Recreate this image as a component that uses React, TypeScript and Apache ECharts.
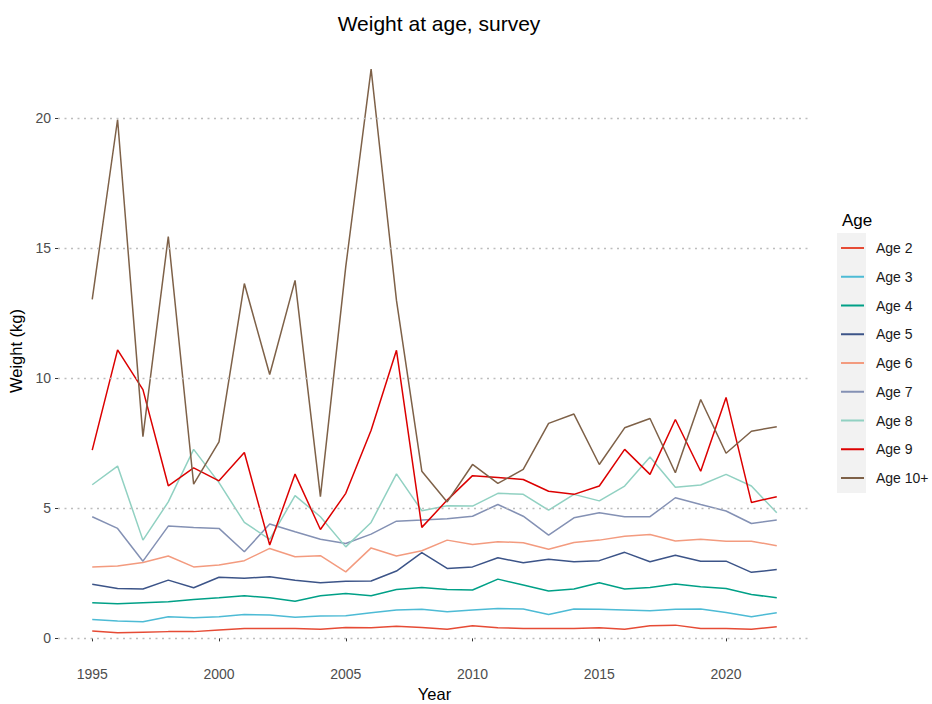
import React, { useEffect, useRef } from "react";
import * as echarts from "echarts";

const years = [
  1995, 1996, 1997, 1998, 1999, 2000, 2001, 2002, 2003, 2004, 2005, 2006, 2007, 2008,
  2009, 2010, 2011, 2012, 2013, 2014, 2015, 2016, 2017, 2018, 2019, 2020, 2021, 2022,
];

const age2 = [0.28, 0.22, 0.24, 0.26, 0.26, 0.32, 0.38, 0.38, 0.38, 0.35, 0.42, 0.41, 0.47, 0.42, 0.35, 0.49, 0.41, 0.38, 0.38, 0.38, 0.41, 0.35, 0.49, 0.51, 0.38, 0.38, 0.35, 0.45];
const age3 = [0.73, 0.67, 0.64, 0.83, 0.79, 0.83, 0.92, 0.9, 0.81, 0.86, 0.87, 0.99, 1.09, 1.12, 1.02, 1.09, 1.15, 1.13, 0.92, 1.13, 1.12, 1.09, 1.06, 1.12, 1.13, 1.0, 0.83, 0.99];
const age4 = [1.37, 1.33, 1.37, 1.41, 1.5, 1.56, 1.64, 1.56, 1.43, 1.64, 1.73, 1.64, 1.88, 1.96, 1.88, 1.86, 2.28, 2.05, 1.82, 1.9, 2.14, 1.9, 1.96, 2.09, 1.99, 1.92, 1.69, 1.56];
const age5 = [2.08, 1.92, 1.9, 2.24, 1.95, 2.35, 2.31, 2.37, 2.24, 2.14, 2.2, 2.21, 2.59, 3.3, 2.69, 2.75, 3.1, 2.91, 3.04, 2.95, 2.99, 3.31, 2.95, 3.2, 2.97, 2.97, 2.54, 2.65];
const age6 = [2.75, 2.78, 2.92, 3.17, 2.75, 2.82, 2.99, 3.46, 3.14, 3.18, 2.56, 3.48, 3.17, 3.37, 3.78, 3.61, 3.72, 3.68, 3.43, 3.69, 3.78, 3.93, 4.0, 3.75, 3.81, 3.74, 3.74, 3.56];
const age7 = [4.68, 4.23, 2.97, 4.32, 4.27, 4.23, 3.33, 4.4, 4.1, 3.81, 3.65, 4.01, 4.51, 4.55, 4.6, 4.7, 5.15, 4.7, 3.97, 4.64, 4.83, 4.68, 4.68, 5.41, 5.15, 4.9, 4.42, 4.55];
const age8 = [5.91, 6.63, 3.78, 5.25, 7.27, 5.99, 4.46, 3.81, 5.49, 4.68, 3.52, 4.46, 6.33, 4.91, 5.1, 5.09, 5.58, 5.54, 4.93, 5.54, 5.29, 5.86, 6.98, 5.81, 5.9, 6.31, 5.86, 4.83];
const age9 = [7.24, 11.1, 9.57, 5.87, 6.56, 6.06, 7.15, 3.59, 6.32, 4.19, 5.58, 8.01, 11.08, 4.27, 5.32, 6.26, 6.19, 6.11, 5.66, 5.54, 5.86, 7.27, 6.31, 8.42, 6.43, 9.27, 5.23, 5.45];
const age10 = [13.04, 19.96, 7.76, 15.46, 5.93, 7.56, 13.65, 10.15, 13.77, 5.45, 14.3, 21.9, 13.0, 6.43, 5.25, 6.69, 5.96, 6.5, 8.27, 8.63, 6.69, 8.1, 8.46, 6.37, 9.19, 7.12, 7.97, 8.14];

const seriesNames = ["Age 2", "Age 3", "Age 4", "Age 5", "Age 6", "Age 7", "Age 8", "Age 9", "Age 10+"];
const seriesValues = [age2, age3, age4, age5, age6, age7, age8, age9, age10];
const seriesColors = ["#E64B35", "#4DBBD5", "#00A087", "#3C5488", "#F39B7F", "#8491B4", "#91D1C2", "#DC0000", "#7E6148"];

const xTicks = [1995, 2000, 2005, 2010, 2015, 2020];
const yTicks = [0, 5, 10, 15, 20];

const FONT = "'Liberation Sans', Arial, sans-serif";

export default function App() {
  const ref = useRef<HTMLDivElement>(null);

  useEffect(() => {
    if (!ref.current) return;
    const chart = echarts.init(ref.current, undefined, { renderer: "svg" });

    const lineSeries = seriesNames.map((name, i) => ({
      name,
      type: "line",
      symbol: "none",
      showSymbol: false,
      color: seriesColors[i],
      lineStyle: { width: 1.5, color: seriesColors[i] },
      data: years.map((y, j) => [y, seriesValues[i][j]]),
      z: 3,
    }));

    const option: any = {
      animation: false,
      backgroundColor: "#ffffff",
      textStyle: { fontFamily: FONT },
      title: [
        {
          text: "Weight at age, survey",
          left: 434,
          top: 8,
          textAlign: "center",
          textStyle: { fontFamily: FONT, fontSize: 21, fontWeight: "normal", color: "#000" },
        },
        {
          text: "Age",
          left: 837,
          top: 207,
          textStyle: { fontFamily: FONT, fontSize: 17, fontWeight: "normal", color: "#000" },
        },
      ],
      grid: { left: 58, right: 121, top: 41, bottom: 43, containLabel: false, outerBoundsMode: "none" },
      xAxis: {
        type: "value",
        min: 1993.65,
        max: 2023.35,
        name: "Year",
        nameLocation: "middle",
        nameGap: 24,
        nameTextStyle: { fontFamily: FONT, fontSize: 16.5, color: "#000", verticalAlign: "top" },
        axisLine: { show: false },
        axisTick: { show: true, customValues: xTicks, length: 3, lineStyle: { color: "#333", width: 1 } },
        axisLabel: {
          customValues: xTicks,
          margin: 6,
          fontFamily: FONT,
          fontSize: 14,
          color: "#4D4D4D",
          formatter: (v: number) => String(v),
        },
        splitLine: { show: false },
      },
      yAxis: {
        type: "value",
        min: -0.87,
        max: 22.98,
        name: "Weight (kg)",
        nameLocation: "middle",
        nameGap: 30,
        nameRotate: 90,
        nameTextStyle: { fontFamily: FONT, fontSize: 16.5, color: "#000" },
        axisLine: { show: false },
        axisTick: { show: true, customValues: yTicks, length: 3, lineStyle: { color: "#333", width: 1 } },
        axisLabel: {
          customValues: yTicks,
          margin: 7,
          fontFamily: FONT,
          fontSize: 14,
          color: "#4D4D4D",
          formatter: (v: number) => String(v),
        },
        splitLine: { show: false },
      },
      legend: {
        data: seriesNames,
        orient: "vertical",
        left: 841,
        top: 240,
        padding: 0,
        itemGap: 12.75,
        itemWidth: 23,
        itemHeight: 2,
        icon: "rect",
        textStyle: { fontFamily: FONT, fontSize: 14, color: "#1A1A1A", lineHeight: 16, padding: [0, 0, 0, 7] },
      },
      graphic: [
        {
          type: "rect",
          left: 837,
          top: 233,
          shape: { width: 29, height: 260 },
          style: { fill: "#F2F2F2" },
          z: -10,
          silent: true,
        },
      ],
      series: [
        {
          name: "grid",
          type: "line",
          data: [],
          silent: true,
          z: 1,
          markLine: {
            silent: true,
            symbol: "none",
            label: { show: false },
            lineStyle: { color: "#BDBDBD", width: 1.3, type: [2, 4.5] },
            data: yTicks.map((v) => ({ yAxis: v })),
            animation: false,
          },
        },
        ...lineSeries,
      ],
    };

    chart.setOption(option);
    return () => chart.dispose();
  }, []);

  return (
    <div
      ref={ref}
      style={{ position: "fixed", left: 0, top: 0, width: 932, height: 704, background: "#fff" }}
    />
  );
}
